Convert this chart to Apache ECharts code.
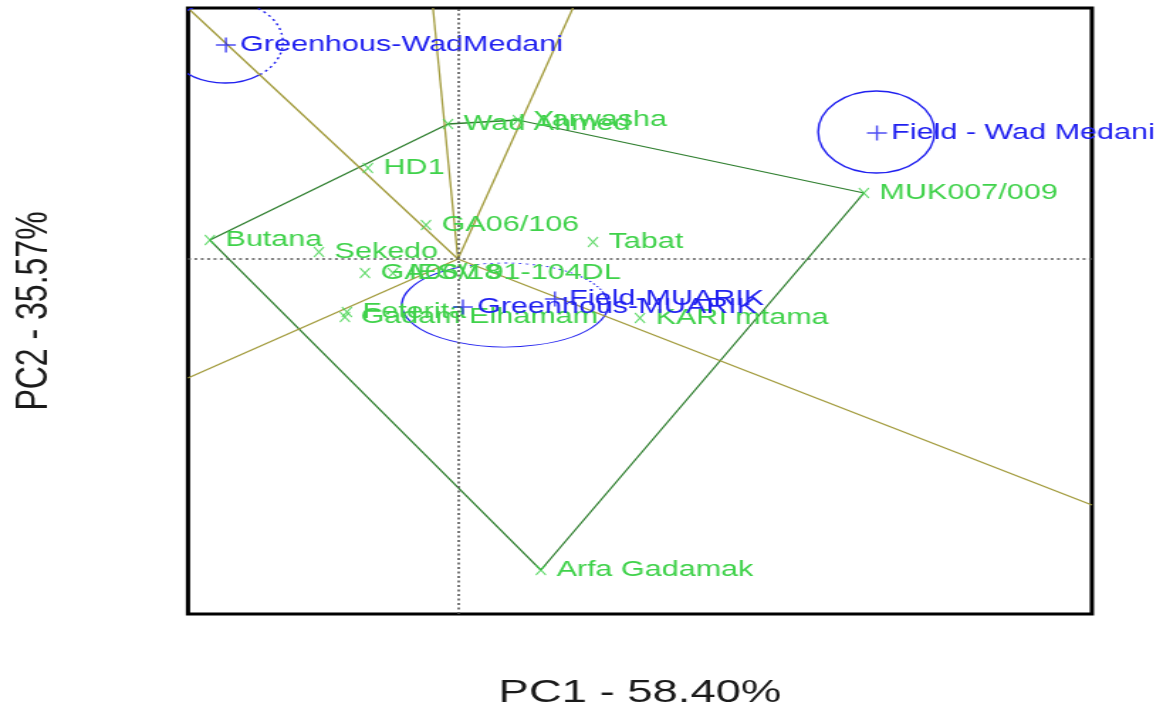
<!DOCTYPE html>
<html>
<head>
<meta charset="utf-8">
<script src="https://cdn.jsdelivr.net/npm/echarts@6/dist/echarts.min.js"></script>
<style>
  html, body { margin: 0; padding: 0; background: #fff; overflow: hidden; }
  #chart { height: 718px; transform-origin: 0 0; }
</style>
</head>
<body>
<div id="chart"></div>
<script>
// GGE biplot, "which won where" view: PC1 vs PC2 scores.

// Genotype scores
const genoNames = ['Butana', 'Wad Ahmed', 'Yarwasha', 'HD1', 'GA06/106', 'Sekedo', 'Tabat',
  'GA06/18', 'IESV 91-104DL', 'Feterita', 'Gadam Elhamam', 'KARI mtama', 'MUK007/009', 'Arfa Gadamak'];
const genoPC1 = [-1.747, -0.070, 0.422, -0.634, -0.225, -0.979, 0.951, -0.655, -0.458, -0.782, -0.796, 1.282, 2.859, 0.584];
const genoPC2 = [0.19, 1.35, 1.39, 0.91, 0.34, 0.07, 0.17, -0.14, -0.14, -0.53, -0.58, -0.59, 0.66, -3.11];

// Environment scores
const envNames = ['Greenhous-WadMedani', 'Field - Wad Medani', 'Greenhous-MUARIK', 'Field-MUARIK'];
const envPC1 = [-1.634, 2.951, 0.035, 0.683];
const envPC2 = [2.14, 1.26, -0.48, -0.40];

// Polygon vertices (winning genotypes), in drawing order
const hullOrder = ['Butana', 'Wad Ahmed', 'Yarwasha', 'MUK007/009', 'Arfa Gadamak', 'Butana'];

// Sector rays from the origin, perpendicular to the polygon sides
const rayEnds = [[-1.887, 2.49], [-0.176, 2.51], [0.810, 2.51], [4.465, -2.46], [-1.901, -1.19]];

// Rings around environments: [PC1, PC2, radius1, radius2, startDeg, endDeg, dotted]
const envRings = [
  [-1.643, 2.17, 0.41, 0.41, 53, 270, 0],
  [-1.643, 2.17, 0.41, 0.41, -90, 53, 1],
  [2.947, 1.27, 0.41, 0.41, 0, 360, 0],
  [0.331, -0.46, 0.725, 0.42, -18, 245, 0],
  [0.331, -0.46, 0.725, 0.42, -110, -18, 1]
];

const axisTitles = ['PC1 - 58.40%', 'PC2 - 35.57%'];
const pc1Range = [-1.901, 4.465];
const pc2Range = [-3.55, 2.51];

// The plot is drawn on a narrower canvas and widened horizontally.
const STRETCH = 1.42;
const W = 1173 / STRETCH;
const el = document.getElementById('chart');
el.style.width = W + 'px';
el.style.transform = 'scaleX(' + STRETCH + ')';

const GREEN = '#3fd24a';
const BLUE = '#2020f0';
const HULL = '#2f7f2f';
const RAY = '#a29b3c';
const LABEL_FONT = '21.5px "Liberation Sans", Arial, sans-serif';

const genoData = genoNames.map((n, i) => [genoPC1[i], genoPC2[i]]);
const envData = envNames.map((n, i) => [envPC1[i], envPC2[i]]);
const hullData = hullOrder.map(n => {
  const i = genoNames.indexOf(n);
  return [genoPC1[i], genoPC2[i]];
});

function labelRenderer(names, color, offset) {
  return function (params, api) {
    const c = api.coord([api.value(0), api.value(1)]);
    return {
      type: 'text',
      x: c[0] + offset,
      y: c[1],
      style: { text: names[params.dataIndex], fill: color, font: LABEL_FONT, align: 'left', verticalAlign: 'middle' }
    };
  };
}

function ringRenderer(params, api) {
  const c = api.coord([api.value(0), api.value(1)]);
  const rx = api.size([api.value(2), 0])[0];
  const ry = api.size([0, api.value(3)])[1];
  const dotted = api.value(6) === 1;
  return {
    type: 'arc',
    x: c[0], y: c[1],
    scaleY: ry / rx,
    shape: {
      cx: 0, cy: 0, r: rx,
      startAngle: api.value(4) * Math.PI / 180,
      endAngle: api.value(5) * Math.PI / 180,
      clockwise: true
    },
    style: { stroke: BLUE, fill: 'none', lineWidth: 1.4, lineDash: dotted ? [2, 3] : null, strokeNoScale: true }
  };
}

const raySeries = rayEnds.map(end => ({
  type: 'line',
  data: [[0, 0], end],
  symbol: 'none',
  silent: true,
  z: 3,
  lineStyle: { color: RAY, width: 1.3 }
}));

const chart = echarts.init(el, null, { renderer: 'canvas' });
chart.setOption({
  animation: false,
  grid: {
    left: 132.4, right: W - 769.0, top: 8, bottom: 104,
    show: true, borderColor: '#000', borderWidth: 3, backgroundColor: '#fff'
  },
  xAxis: {
    type: 'value', min: pc1Range[0], max: pc1Range[1],
    axisLine: { show: false }, axisTick: { show: false }, axisLabel: { show: false }, splitLine: { show: false },
    name: axisTitles[0], nameLocation: 'middle', nameGap: 63,
    nameTextStyle: { color: '#1a1a1a', fontSize: 32, fontFamily: '"Liberation Sans", Arial, sans-serif' }
  },
  yAxis: {
    type: 'value', min: pc2Range[0], max: pc2Range[1],
    axisLine: { show: false }, axisTick: { show: false }, axisLabel: { show: false }, splitLine: { show: false },
    name: axisTitles[1], nameLocation: 'middle', nameGap: 92, nameRotate: 90,
    nameTextStyle: { color: '#1a1a1a', fontSize: 32, fontFamily: '"Liberation Sans", Arial, sans-serif' }
  },
  series: [
    {
      type: 'line',
      data: hullData,
      symbol: 'none',
      silent: true,
      z: 3,
      lineStyle: { color: HULL, width: 1.3 },
      markLine: {
        silent: true,
        symbol: 'none',
        label: { show: false },
        lineStyle: { color: '#555', width: 1.6, type: [2, 2.5] },
        data: [{ xAxis: 0 }, { yAxis: 0 }]
      }
    },
    ...raySeries,
    {
      type: 'custom',
      clip: true,
      silent: true,
      z: 3,
      renderItem: ringRenderer,
      encode: { x: 0, y: 1 },
      data: envRings
    },
    {
      type: 'scatter',
      data: genoData,
      symbol: 'path://M0,0L10,10M10,0L0,10',
      symbolSize: [7, 10],
      silent: true,
      z: 4,
      itemStyle: { color: 'none', borderColor: GREEN, borderWidth: 1.2 }
    },
    {
      type: 'scatter',
      data: envData,
      symbol: 'path://M0,5L10,5M5,0L5,10',
      symbolSize: [14, 15],
      silent: true,
      z: 4,
      itemStyle: { color: 'none', borderColor: BLUE, borderWidth: 1.5 }
    },
    {
      type: 'custom',
      clip: false,
      silent: true,
      z: 4,
      renderItem: labelRenderer(genoNames, GREEN, 11),
      encode: { x: 0, y: 1 },
      data: genoData
    },
    {
      type: 'custom',
      clip: false,
      silent: true,
      z: 4,
      renderItem: labelRenderer(envNames, BLUE, 10),
      encode: { x: 0, y: 1 },
      data: envData
    }
  ]
});
</script>
</body>
</html>
